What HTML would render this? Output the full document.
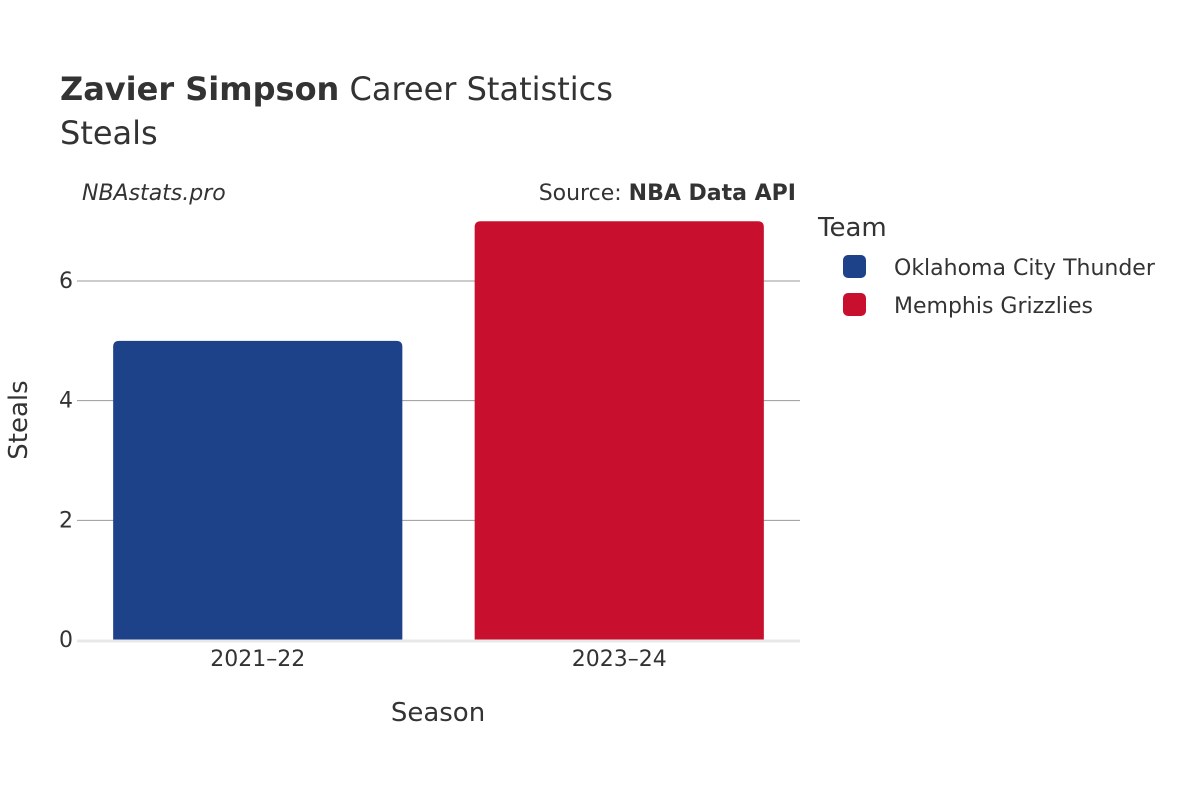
<!DOCTYPE html>
<html><head><meta charset="utf-8"><style>
body{margin:0;background:#fff;}
svg text{font-family:"DejaVu Sans","Liberation Sans",sans-serif;fill:#333;}
</style></head><body>
<svg id="chart" width="1200" height="800" xmlns="http://www.w3.org/2000/svg">
<rect width="1200" height="800" fill="#fff"/>
<text x="60" y="100" font-size="32"><tspan font-weight="bold">Zavier Simpson</tspan> Career Statistics</text>
<text x="60" y="144" font-size="32">Steals</text>
<text x="82" y="200" font-size="22" font-style="italic">NBAstats.pro</text>
<text x="796" y="200" font-size="22" text-anchor="end">Source: <tspan font-weight="bold">NBA Data API</tspan></text>
<g id="grid"></g>
<g id="bars"></g>
<g id="xticks"></g>
<text x="438" y="721" font-size="26" text-anchor="middle">Season</text>
<text transform="translate(27,420) rotate(-90)" font-size="26" text-anchor="middle">Steals</text>
<text x="818" y="236" font-size="26">Team</text>
<g id="legend"></g>
</svg>
<script>
const categories = ["2021–22", "2023–24"];
const values = [5, 7];
const teams = ["Oklahoma City Thunder", "Memphis Grizzlies"];
const colors = ["#1d428a", "#c8102e"];
const yTicks = [0, 2, 4, 6];

const NS = "http://www.w3.org/2000/svg";
const plotL = 77, plotR = 800, y0 = 640, pxPerUnit = 59.83;
const yScale = v => y0 - v * pxPerUnit;
const band = (plotR - plotL) / categories.length;
const xCenter = i => plotL + band * (i + 0.5);
const barW = band * 0.8;
function mk(tag, attrs, parent){const e=document.createElementNS(NS,tag);for(const k in attrs)e.setAttribute(k,attrs[k]);parent.appendChild(e);return e;}

const grid = document.getElementById("grid");
yTicks.forEach(t => {
  const y = yScale(t);
  if (t !== 0) {
    const l = mk("line", {x1:plotL, x2:plotR, y1:y, y2:y, stroke:"#999", "stroke-width":1}, grid);
    
    
  }
  const tx = mk("text", {x:73, y:y+7, "font-size":22, "text-anchor":"end"}, grid);
  tx.textContent = t;
  
  
});

const bars = document.getElementById("bars");
values.forEach((v, i) => {
  const x = xCenter(i) - barW/2, y = yScale(v), h = y0 - y, r = 6;
  const p = mk("path", {d:`M${x},${y0} V${y+r} Q${x},${y} ${x+r},${y} H${x+barW-r} Q${x+barW},${y} ${x+barW},${y+r} V${y0} Z`, fill:colors[i]}, bars);
  
  
});
const zl = mk("line", {x1:plotL, x2:plotR, y1:y0+1, y2:y0+1, stroke:"#e8e8e8", "stroke-width":3}, bars);



const xt = document.getElementById("xticks");
categories.forEach((c, i) => {
  const t = mk("text", {x:xCenter(i), y:666, "font-size":22, "text-anchor":"middle"}, xt);
  t.textContent = c;
  
  
});

const lg = document.getElementById("legend");
teams.forEach((tm, i) => {
  const y = 266 + i * 38;
  const r = mk("rect", {x:843, y:y-11, width:23, height:23, rx:5, fill:colors[i]}, lg);
  
  
  const t = mk("text", {x:894, y:y+9, "font-size":22}, lg);
  t.textContent = tm;
  
  
});
</script>
</body></html>
